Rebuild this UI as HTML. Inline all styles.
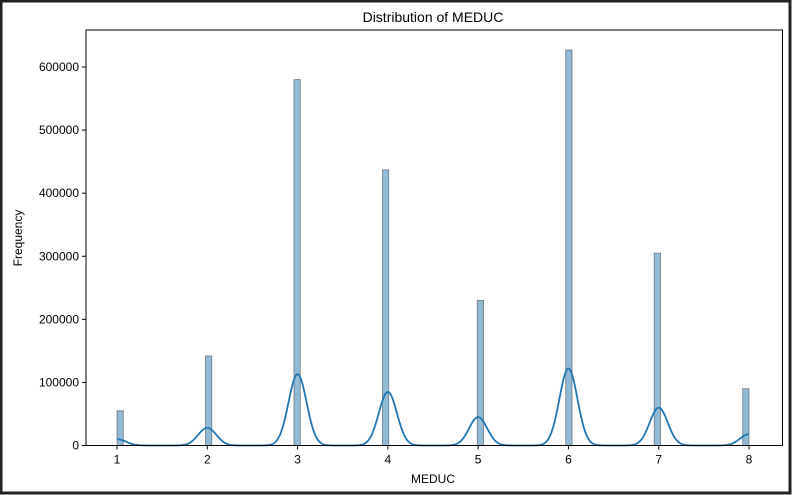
<!DOCTYPE html>
<html><head><meta charset="utf-8"><style>
html,body{margin:0;padding:0;background:#fff}
svg{display:block;font-family:"Liberation Sans","DejaVu Sans",sans-serif}
</style></head><body>
<svg id="chart" width="792" height="495" viewBox="0 0 792 495">
<rect x="1" y="1" width="789" height="492" fill="#fff" stroke="#222" stroke-width="3"/>
<text x="433" y="22" font-size="14" text-anchor="middle" fill="#000">Distribution of MEDUC</text>
<g id="marks"></g>
<g id="axes"></g>
<text x="433" y="483" font-size="12" text-anchor="middle">MEDUC</text>
<text x="22" y="238" font-size="12" text-anchor="middle" transform="rotate(-90 22 238)">Frequency</text>
</svg>
<script>
const categories = [1,2,3,4,5,6,7,8];
const counts = [55000,142000,580000,437000,230000,627000,305000,90000];
const kdePeaks = [10000,28000,113000,85000,45000,122000,60000,18000];
const yTicks = [0,100000,200000,300000,400000,500000,600000];
const xTicks = [1,2,3,4,5,6,7,8];

const L=86,R=782.5,T=30,B=445.5;
const xs=v=>117+(v-1)*(749-117)/7;
const ys=v=>B-v*(B-67)/600000;
const NS="http://www.w3.org/2000/svg";
const marks=document.getElementById('marks'),axes=document.getElementById('axes');
function mk(tag,attrs,parent){const e=document.createElementNS(NS,tag);for(const k in attrs)e.setAttribute(k,attrs[k]);parent.appendChild(e);return e;}

const bw=0.07;
categories.forEach((c,i)=>{
  let k=Math.floor((c-1)/bw+1e-9); if(k>=100)k=99;
  let x0=1+k*bw; if(x0+bw>8.0001)x0=8-bw;
  const r=mk('rect',{x:xs(x0),y:ys(counts[i]),width:xs(x0+bw)-xs(x0),height:B-ys(counts[i]),fill:'rgba(31,119,180,0.5)',stroke:'rgba(60,60,60,0.6)','stroke-width':0.8},marks);
  
  
});
let d='';const sig=0.1;
for(let s=0;s<=1400;s++){
  const v=1+s*7/1400;let y=0;
  categories.forEach((c,i)=>{y+=kdePeaks[i]*Math.exp(-0.5*((v-c)/sig)**2);});
  d+=(s?'L':'M')+xs(v).toFixed(2)+','+ys(y).toFixed(2);
}
const kl=mk('path',{d:d,fill:'none',stroke:'#1f77b4','stroke-width':1.8},marks);



const fr=mk('rect',{x:L,y:T,width:R-L,height:B-T,fill:'none',stroke:'#000','stroke-width':1},axes);


yTicks.forEach(t=>{
  const y=ys(t);
  const tk=mk('line',{x1:L-4,x2:L,y1:y,y2:y,stroke:'#000'},axes);
  
  
  const tx=mk('text',{x:L-7,y:y+4,'font-size':12,'text-anchor':'end'},axes);
  tx.textContent=t;
  
  
});
xTicks.forEach(t=>{
  const x=xs(t);
  const tk=mk('line',{x1:x,x2:x,y1:B,y2:B+4,stroke:'#000'},axes);
  
  
  const tx=mk('text',{x:x,y:B+18,'font-size':12,'text-anchor':'middle'},axes);
  tx.textContent=t;
  
  
});
</script>
</body></html>
